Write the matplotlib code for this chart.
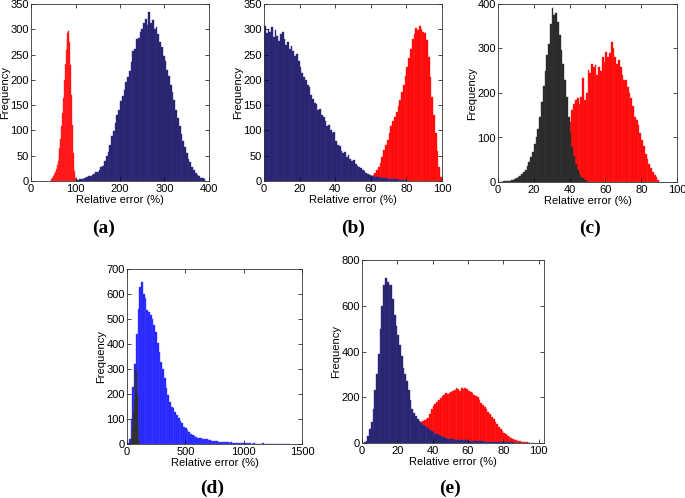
import numpy as np
import matplotlib.pyplot as plt

plt.rcParams['font.family'] = 'Liberation Sans'
plt.rcParams['font.size'] = 8

# ---- (a) ----
a_red_start, a_red_w = 44, 2
a_red = [2, 4, 6, 9, 13, 18, 24, 31, 40, 52, 66, 84, 108, 135, 165, 200, 232, 260,
         280, 292, 296, 275, 230, 170, 110, 55, 20, 5]
a_dark_start, a_dark_w = 100, 4
a_dark = [1, 2, 3, 3, 4, 6, 8, 9, 10, 12, 14, 17, 18, 22, 27, 30, 40, 50, 58, 72,
          88, 98, 115, 130, 140, 158, 168, 180, 195, 205, 218, 235, 258, 262, 280, 282, 295, 300, 312, 320,
          308, 335, 312, 318, 300, 305, 290, 275, 265, 248, 238, 220, 208, 190, 175, 160, 140, 125, 108, 92,
          80, 68, 56, 44, 38, 28, 22, 16, 12, 9, 6, 5, 3]

# ---- (b) ----
b_dark_start, b_dark_w = 0, 1
b_dark = [306, 292, 300, 294, 305, 284, 298, 286, 276, 290,
          295, 280, 268, 274, 262, 266, 258, 248, 252, 238,
          226, 214, 206, 200, 190, 186, 170, 162, 154, 152,
          140, 142, 130, 126, 118, 108, 110, 100, 94, 96,
          80, 72, 70, 60, 56, 58, 48, 52, 44, 40,
          42, 34, 30, 28, 26, 22, 20, 16, 14, 12,
          10, 9, 8, 8, 7, 6, 6, 5, 5, 4,
          4, 4, 3, 3, 3, 2, 2, 2, 1, 1]
b_red_start, b_red_w = 55, 1
b_red = [2, 3, 4, 5, 7, 9, 12, 16, 22, 28, 36, 48, 61, 72, 82, 95, 108, 118, 126, 136,
         148, 160, 175, 190, 208, 226, 244, 262, 280, 290, 302, 298, 306, 300, 294, 292,
         278, 246, 205, 167, 130, 94, 60, 28, 8]

# ---- (c) ----
c_dark_start, c_dark_w = 0, 1
c_dark = [1, 1, 1, 2, 2, 3, 3, 4, 5, 7,
          9, 12, 14, 18, 22, 26, 35, 45, 56, 68,
          85, 100, 120, 145, 180, 215, 250, 285, 310, 355,
          390, 375, 380, 360, 330, 296, 265, 229, 190, 146,
          110, 79, 58, 41, 28, 19, 12, 8, 5, 3]
c_red_start, c_red_w = 30, 1
c_red = [20, 28, 38, 50, 62, 75, 88, 100, 115, 130,
         135, 161, 175, 184, 188, 176, 190, 233, 184, 200,
         251, 245, 266, 258, 262, 240, 259, 250, 281, 270,
         293, 280, 290, 315, 300, 281, 266, 275, 259, 240,
         229, 230, 214, 200, 188, 170, 146, 140, 128, 110,
         94, 80, 64, 52, 41, 32, 23, 15, 11, 4]

# ---- (d) ----
d_blue_start, d_blue_w = 0, 15
d_blue = [3, 20, 100, 230, 320, 440, 540, 630, 648, 600,
          583, 536, 530, 516, 500, 476, 449, 403, 369, 329,
          300, 263, 223, 196, 169, 150, 143, 130, 118, 103,
          92, 83, 70, 63, 55, 49, 42, 38, 33, 30,
          26, 24, 23, 22, 21, 20, 18, 15, 14, 13,
          12, 11, 10, 10, 9, 8, 9, 7, 6, 7,
          6, 5, 5, 4, 5, 4, 4, 4, 3, 3,
          3, 2, 3, 2, 2, 2, 2, 3, 2, 2,
          1, 2, 2, 1, 1, 2, 1, 1, 1, 1, 1, 1, 1]
d_dark_start, d_dark_w = 20, 5
d_dark = [3, 6, 12, 22, 38, 60, 90, 130, 180, 240, 300, 325, 290, 200, 90, 20]

# ---- (e) ----
e_dark_start, e_dark_w = 1, 1
e_dark = [3, 9, 30, 60, 90, 150, 230, 300, 390, 500,
          600, 690, 720, 705, 690, 690, 630, 560, 510, 470,
          430, 380, 330, 300, 270, 230, 190, 150, 130, 118,
          104, 98, 89, 80, 74, 70, 67, 58, 52, 46,
          40, 38, 34, 31, 28, 25, 22, 19, 18, 17,
          16, 15, 14, 14, 13, 12, 12, 11, 11, 10,
          10, 9, 9, 8, 8, 7, 7, 7, 6, 6,
          6, 5, 5, 5, 5, 4, 4, 4, 4, 4,
          3, 3, 3, 3, 3, 2, 2, 2, 2, 2,
          1, 1, 1, 1]
e_red_start, e_red_w = 22, 1
e_red = [10, 18, 25, 32, 40, 48, 56, 64, 72, 80,
         86, 92, 96, 100, 104, 110, 125, 147, 160, 170,
         178, 186, 198, 206, 212, 218, 214, 220, 225, 228,
         232, 242, 236, 228, 240, 235, 242, 236, 228, 222,
         220, 212, 206, 200, 186, 176, 166, 156, 147, 136,
         125, 115, 104, 92, 84, 72, 60, 52, 44, 38,
         32, 26, 23, 18, 15, 13, 10, 8, 6, 5,
         4, 3, 2, 2, 1, 1]

DARK = dict(color='#25225c', edgecolor='#3b33a8', linewidth=0.3)
RED = dict(color='#ff0000', edgecolor='#ff3030', linewidth=0.3)
BLACK = dict(color='#262626', edgecolor='#3a3a3a', linewidth=0.3)
BLUE = dict(color='#1f1fff', edgecolor='#4a4aff', linewidth=0.3)


def hist_bars(ax, start, w, counts, style):
    edges = start + w * np.arange(len(counts))
    ax.bar(edges, counts, width=w, align='edge', **style)


def style_ax(ax, xlim, xticks, ylim, yticks, label, lx, ly):
    ax.set_xlim(*xlim)
    ax.set_ylim(*ylim)
    ax.set_xticks(xticks)
    ax.set_yticks(yticks)
    ax.tick_params(direction='in', length=3, width=0.5, top=True, right=True, pad=2)
    ax.tick_params(axis='y', pad=1.5)
    for s in ax.spines.values():
        s.set_linewidth(0.6)
        s.set_color('#333333')
    ax.set_xlabel('Relative error (%)', labelpad=1)
    ax.set_ylabel('Frequency', labelpad=0)
    fig.text(lx, ly, label, ha='center', va='center', fontsize=14,
             fontweight='bold', family='Liberation Serif')


W, H = 685, 498
fig = plt.figure(figsize=(6.85, 4.98), dpi=100)


def add_ax(l, r, t, b):
    return fig.add_axes([l / W, (H - b) / H, (r - l) / W, (b - t) / H])


ax = add_ax(31, 209, 4, 181)
hist_bars(ax, a_red_start, a_red_w, a_red, RED)
hist_bars(ax, a_dark_start, a_dark_w, a_dark, DARK)
style_ax(ax, (0, 400), range(0, 401, 100), (0, 350), range(0, 351, 50),
         '(a)', 104 / W, 1 - 228 / H)

ax = add_ax(264, 442, 4, 181)
hist_bars(ax, b_red_start, b_red_w, b_red, RED)
hist_bars(ax, b_dark_start, b_dark_w, b_dark, DARK)
style_ax(ax, (0, 100), range(0, 101, 20), (0, 350), range(0, 351, 50),
         '(b)', 353 / W, 1 - 228 / H)

ax = add_ax(498, 677, 4, 182)
hist_bars(ax, c_red_start, c_red_w, c_red, RED)
hist_bars(ax, c_dark_start, c_dark_w, c_dark, BLACK)
style_ax(ax, (0, 100), range(0, 101, 20), (0, 400), range(0, 401, 100),
         '(c)', 590 / W, 1 - 228 / H)

ax = add_ax(127, 302, 269, 444)
hist_bars(ax, d_blue_start, d_blue_w, d_blue, BLUE)
hist_bars(ax, d_dark_start, d_dark_w, d_dark, BLACK)
style_ax(ax, (0, 1500), range(0, 1501, 500), (0, 700), range(0, 701, 100),
         '(d)', 212 / W, 1 - 488 / H)

ax = add_ax(362, 544, 260, 443)
hist_bars(ax, e_red_start, e_red_w, e_red, RED)
hist_bars(ax, e_dark_start, e_dark_w, e_dark, DARK)
style_ax(ax, (0, 103), range(0, 101, 20), (0, 800), range(0, 801, 200),
         '(e)', 450 / W, 1 - 488 / H)

fig.savefig('out.png', dpi=100)
